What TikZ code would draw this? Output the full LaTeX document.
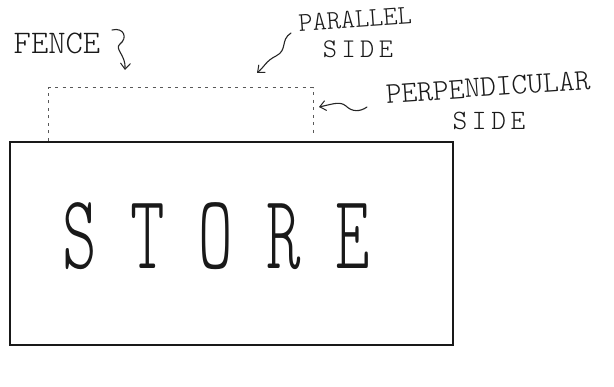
\documentclass[tikz,border=0pt]{standalone}
\usepackage{fontspec}
\usetikzlibrary{arrows.meta}
\newcommand\handfnt{\fontseries{l}\ttfamily}
\begin{document}
\begin{tikzpicture}[x=1pt,y=-1pt,
  pencil/.style={line width=1.1pt, draw=black!85, line cap=round, line join=round},
  hand/.style={font=\handfnt, inner sep=0pt, text=black!90, text depth=0pt},
  fenceline/.style={line width=1pt, draw=black!65, dash pattern=on 3pt off 4.5pt},
  tip/.style={-{Straight Barb[length=6pt,width=10pt,line width=1pt]}}
]
\fill[white] (0,0) rectangle (614,387);
\useasboundingbox (0,0) rectangle (614,387);

% store
\node[draw=black!90, line width=1.6pt, minimum width=443pt, minimum height=203pt,
      inner sep=0pt, anchor=north west] (store) at (9,141) {};
\node[hand, font=\handfnt\fontsize{106}{106}\selectfont, xscale=0.62] (storetxt) at (216,236)
  {\makebox[110pt]{S}\makebox[110pt]{T}\makebox[110pt]{O}\makebox[110pt]{R}\makebox[110pt]{E}};

% fence
\coordinate (fl) at (48,141);
\coordinate (ftl) at (48,88);
\coordinate (ftr) at (313,88);
\coordinate (fr) at (313,136);
\draw[fenceline] (fl) -- (ftl) -- (ftr) -- (fr);

% labels
\node[hand, font=\handfnt\fontsize{33}{33}\selectfont] (fencelbl) at (57,43) {FENCE};
\node[hand, font=\handfnt\fontsize{27}{27}\selectfont, rotate=4] (parlbl) at (355,19) {PARALLEL};
\node[hand, font=\handfnt\fontsize{27}{27}\selectfont] (parside) at (358,49) {S\,I\,D\,E};
\node[hand, font=\handfnt\fontsize{30}{30}\selectfont, rotate=4] (perplbl) at (488,87) {PERPENDICULAR};
\node[hand, font=\handfnt\fontsize{28}{28}\selectfont] (perpside) at (489,121) {S\,I\,D\,E};

% arrows
\coordinate (fa0) at (112,30);
\coordinate (fa1) at (125,70);
\draw[pencil, tip] (fa0) .. controls (124,27) and (128,38) .. (120,44)
  .. controls (114,49) and (126,55) .. (fa1);

\coordinate (pa0) at (291,33);
\coordinate (pa1) at (257,73);
\draw[pencil, tip] (pa0) .. controls (280,40) and (288,50) .. (276,56)
  .. controls (266,61) and (265,66) .. (pa1);

\coordinate (qa0) at (367,107);
\coordinate (qa1) at (319,107);
\draw[pencil, tip] (qa0) .. controls (360,112) and (352,112) .. (346,106)
  .. controls (340,101) and (333,104) .. (qa1);
\end{tikzpicture}
\end{document}
